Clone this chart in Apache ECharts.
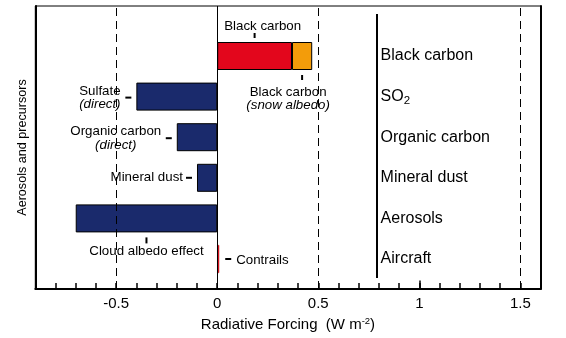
<!DOCTYPE html>
<html>
<head>
<meta charset="utf-8">
<script src="https://cdn.jsdelivr.net/npm/echarts@6/dist/echarts.min.js"></script>
<style>
html,body{margin:0;padding:0;background:#fff;}
#c{width:566px;height:338px;}
</style>
</head>
<body>
<div id="c"></div>
<script>
// ---- data ----
const categories = ['Black carbon', 'SO2', 'Organic carbon', 'Mineral dust', 'Aerosols', 'Aircraft'];
const mainForcing = [0.37, -0.40, -0.20, -0.10, -0.70, 0.01];
const snowAlbedoForcing = [0.10, null, null, null, null, null];
const mainColors = ['#e3061c', '#1a2a6c', '#1a2a6c', '#1a2a6c', '#1a2a6c', '#e3061c'];
const snowColor = '#f39c0a';
const referenceLines = [-0.5, 0.5, 1.5];
const separatorAt = 0.79;
const xMin = -0.9, xMax = 1.6;

const FONT = '"Liberation Sans", Arial, sans-serif';
const chart = echarts.init(document.getElementById('c'), null, {renderer: 'canvas'});

function fmtX(v) {
  const r = Math.round(v * 10);
  if (r % 5 !== 0) return '';
  return String(r / 10);
}

const option = {
  animation: false,
  backgroundColor: '#fff',
  grid: [
    {left: 35.3, right: 25.4, top: 6, bottom: 49, show: true, borderColor: '#000', borderWidth: 1, containLabel: false},
    {left: 35.3, right: 25.4, top: 35.7, bottom: 58.7, containLabel: false}
  ],
  xAxis: [
    {
      gridIndex: 0, type: 'value', min: xMin, max: xMax, interval: 0.1,
      axisLine: {show: true, onZero: false, lineStyle: {color: '#000', width: 2}},
      axisTick: {show: true, inside: true, length: 6, lineStyle: {color: '#000', width: 1.5}},
      splitLine: {show: false},
      axisLabel: {formatter: fmtX, color: '#000', fontSize: 15, fontFamily: FONT, margin: 7},
      name: 'Radiative Forcing  (W m{sup|-2})',
      nameLocation: 'middle', nameGap: 26,
      nameTextStyle: {color: '#000', fontSize: 15, fontFamily: FONT,
        rich: {sup: {fontSize: 9.5, fontFamily: FONT, color: '#000', padding: [0, 0, 7, 0]}}}
    },
    {gridIndex: 1, type: 'value', min: xMin, max: xMax, show: false}
  ],
  yAxis: [
    {
      gridIndex: 0, type: 'value', min: 0, max: 1, position: 'left',
      axisLine: {show: true, onZero: false, lineStyle: {color: '#000', width: 2}},
      axisTick: {show: false}, axisLabel: {show: false}, splitLine: {show: false},
      name: 'Aerosols and precursors', nameLocation: 'middle', nameRotate: 90, nameGap: 6,
      nameTextStyle: {color: '#000', fontSize: 12.6, fontFamily: FONT}
    },
    {
      gridIndex: 1, type: 'category', data: categories, inverse: true, position: 'right', offset: -165,
      axisLine: {show: false}, axisTick: {show: false}, splitLine: {show: false},
      axisLabel: {
        margin: 5, color: '#000', fontSize: 16, fontFamily: FONT,
        formatter: function (v) { return v === 'SO2' ? '{n|SO}{s|2}' : v; },
        rich: {
          n: {fontSize: 16, fontFamily: FONT, color: '#000'},
          s: {fontSize: 11.5, fontFamily: FONT, color: '#000', padding: [8, 0, 0, 0]}
        }
      }
    },
    {
      gridIndex: 0, type: 'value', min: 0, max: 1, position: 'right',
      axisLine: {show: true, onZero: false, lineStyle: {color: '#000', width: 2}},
      axisTick: {show: false}, axisLabel: {show: false}, splitLine: {show: false}
    }
  ],
  series: [
    {
      type: 'scatter', xAxisIndex: 0, yAxisIndex: 0, data: [[0, -1]], symbolSize: 0, silent: true,
      markLine: {
        silent: true, symbol: ['none', 'none'], label: {show: false}, animation: false,
        data: [
          {xAxis: 0, lineStyle: {color: '#000', width: 1, type: 'solid'}},
          ...referenceLines.map(v => ({xAxis: v, lineStyle: {color: '#000', width: 1, type: [8, 5]}})),
          [{coord: [separatorAt, 0.039], lineStyle: {color: '#000', width: 2, type: 'solid'}}, {coord: [separatorAt, 0.972]}],
          [{coord: [1, 0], lineStyle: {color: '#000', width: 1.5, type: 'solid'}}, {coord: [1, 0.03]}]
        ]
      }
    },
    {
      type: 'bar', xAxisIndex: 1, yAxisIndex: 1, stack: 'f', barWidth: 28,
      data: mainForcing.map((v, i) => ({
        value: v,
        itemStyle: Math.abs(v) < 0.05
          ? {color: mainColors[i], borderColor: '#b0281c', borderWidth: 0.5}
          : {color: mainColors[i]}
      })),
      itemStyle: {borderColor: '#000', borderWidth: 1}
    },
    {
      type: 'bar', xAxisIndex: 1, yAxisIndex: 1, stack: 'f', barWidth: 28,
      data: snowAlbedoForcing,
      itemStyle: {color: snowColor, borderColor: '#000', borderWidth: 1}
    }
  ]
};
chart.setOption(option);

// ---- annotations anchored to bar positions ----
function px(v, i) { return chart.convertToPixel({xAxisIndex: 1, yAxisIndex: 1}, [v, i]); }
const H = 14;
const g = [];
function txt(t, x, y, align, italic) {
  g.push({type: 'text', silent: true, style: {text: t, x: x, y: y + 1, fill: '#000',
    font: (italic ? 'italic ' : '') + '13.3px ' + FONT, textAlign: align, textVerticalAlign: 'middle'}});
}
function rect(x, y, w, h) {
  g.push({type: 'rect', silent: true, shape: {x: x, y: y, width: w, height: h}, style: {fill: '#000'}});
}
// Black carbon (top)
let p0 = px(0, 0), pr = px(mainForcing[0] / 2, 0);
rect(pr[0] - 1, pr[1] - H - 9, 2, 5);
txt('Black carbon', p0[0] + 7, pr[1] - H - 16.5, 'left');
// Black carbon snow albedo
let po = px(mainForcing[0] + snowAlbedoForcing[0] / 2, 0);
rect(po[0] - 1, po[1] + H + 5, 2, 5);
txt('Black carbon', po[0] - 14, po[1] + 35, 'center');
txt('(snow albedo)', po[0] - 14, po[1] + 48, 'center', true);
// Sulfate
let ps = px(mainForcing[1], 1);
rect(ps[0] - 11, ps[1], 6, 2);
txt('Sulfate', ps[0] - 36.5, ps[1] - 6.5, 'center');
txt('(direct)', ps[0] - 36.5, ps[1] + 6.5, 'center', true);
// Organic carbon
let pc = px(mainForcing[2], 2);
rect(pc[0] - 11, pc[1], 6, 2);
txt('Organic carbon', pc[0] - 61, pc[1] - 6.5, 'center');
txt('(direct)', pc[0] - 61, pc[1] + 7.5, 'center', true);
// Mineral dust
let pm = px(mainForcing[3], 3);
rect(pm[0] - 11, pm[1] - 1, 6, 2);
txt('Mineral dust', pm[0] - 14, pm[1] - 1, 'right');
// Cloud albedo effect
let pa = px(mainForcing[4] / 2, 4);
rect(pa[0] - 1, pa[1] + H + 5, 2, 6);
txt('Cloud albedo effect', pa[0], pa[1] + H + 18, 'center');
// Contrails
let pt = px(mainForcing[5], 5);
rect(pt[0] + 6, pt[1] - 1, 6, 2);
txt('Contrails', pt[0] + 17, pt[1], 'left');

chart.setOption({graphic: g});
</script>
</body>
</html>
